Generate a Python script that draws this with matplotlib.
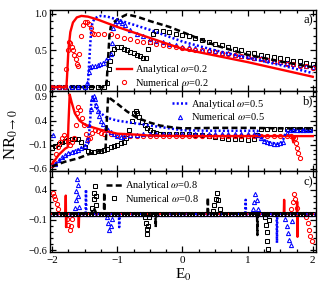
import matplotlib
matplotlib.use('Agg')
import matplotlib.pyplot as plt
from matplotlib.ticker import MultipleLocator
from matplotlib.lines import Line2D

plt.rcParams['font.family'] = 'serif'
plt.rcParams['font.serif'] = ['Liberation Serif', 'DejaVu Serif']
plt.rcParams['mathtext.fontset'] = 'stix'

# ---------------- panel a) ----------------
red_line_a_x = [-2.0, -1.78, -1.77, -1.75, -1.72, -1.68, -1.62, -1.55, -1.45, -1.3, -1.0, -0.5, 0.0, 0.5, 1.0, 1.5, 2.0]
red_line_a_y = [0.0, 0.0, 0.15, 0.5, 0.75, 0.88, 0.95, 0.97, 0.96, 0.92, 0.82, 0.67, 0.52, 0.43, 0.34, 0.24, 0.14]

red_num_a_x = [-2.0, -1.9, -1.8, -1.78, -1.76, -1.74, -1.72, -1.70, -1.68, -1.66, -1.64, -1.62, -1.60,
               -1.58, -1.56, -1.53, -1.50, -1.47, -1.44, -1.41, -1.38, -1.35, -1.3, -1.2, -1.1, -1.0,
               -0.9, -0.8, -0.7, -0.6, -0.5, -0.4, -0.3, -0.2, -0.1, 0.0, 0.1, 0.2, 0.3, 0.4, 0.5,
               0.6, 0.7, 0.8, 0.9, 1.0, 1.1, 1.2, 1.3, 1.4, 1.5, 1.6, 1.7, 1.8, 1.9, 2.0]
red_num_a_y = [0.0, 0.0, 0.0, 0.25, 0.5, 0.62, 0.6, 0.55, 0.5, 0.44, 0.38, 0.32, 0.28,
               0.45, 0.69, 0.85, 0.89, 0.89, 0.86, 0.8, 0.74, 0.72, 0.73, 0.73, 0.72, 0.7,
               0.67, 0.65, 0.63, 0.62, 0.61, 0.59, 0.58, 0.56, 0.55, 0.53, 0.52, 0.51, 0.5, 0.49, 0.48,
               0.46, 0.45, 0.44, 0.42, 0.41, 0.4, 0.38, 0.37, 0.35, 0.34, 0.32, 0.31, 0.29, 0.28, 0.26]

blue_line_a_x = [-2.0, -1.45, -1.44, -1.42, -1.40, -1.38, -1.35, -1.3, -1.25, -1.15, -1.0, -0.5, 0.0, 0.5, 1.0, 1.5, 2.0]
blue_line_a_y = [0.0, 0.0, 0.2, 0.5, 0.78, 0.88, 0.93, 0.96, 0.97, 0.96, 0.92, 0.78, 0.62, 0.5, 0.4, 0.3, 0.19]

blue_num_a_x = [-2.0, -1.9, -1.8, -1.7, -1.6, -1.5,
                -1.46, -1.44, -1.42, -1.38, -1.34, -1.30, -1.26, -1.22, -1.18, -1.14, -1.10, -1.08,
                -1.06, -1.04, -1.0, -0.96, -0.92, -0.88,
                -0.8, -0.7, -0.6, -0.5, -0.4, -0.3, -0.2, -0.1,
                0.0, 0.1, 0.2, 0.3, 0.4, 0.5, 0.6, 0.7, 0.8, 0.9, 1.0, 1.1, 1.2, 1.3, 1.4, 1.5,
                1.6, 1.7, 1.8, 1.9, 2.0]
blue_num_a_y = [0.0, 0.0, 0.0, 0.0, 0.0, 0.0,
                0.05, 0.2, 0.27, 0.29, 0.29, 0.3, 0.31, 0.33, 0.37, 0.41, 0.45, 0.6,
                0.8, 0.88, 0.9, 0.9, 0.87, 0.84,
                0.78, 0.73, 0.69, 0.66, 0.63, 0.61, 0.59, 0.57,
                0.55, 0.54, 0.53, 0.51, 0.5, 0.49, 0.47, 0.46, 0.44, 0.43, 0.42, 0.4, 0.39, 0.37, 0.36, 0.34,
                0.33, 0.31, 0.3, 0.28, 0.27]

black_line_a_x = [-2.0, -1.17, -1.16, -1.14, -1.12, -1.10, -1.06, -1.0, -0.9, -0.85, -0.7, -0.5, -0.2, 0.0, 0.5, 1.0, 1.5, 2.0]
black_line_a_y = [0.0, 0.0, 0.1, 0.4, 0.7, 0.82, 0.88, 0.92, 0.97, 0.99, 0.96, 0.9, 0.82, 0.75, 0.57, 0.44, 0.35, 0.27]

black_num_a_x = [-2.0, -1.9, -1.8, -1.7, -1.6, -1.5, -1.4, -1.3, -1.2,
                 -1.15, -1.13, -1.11, -1.08, -1.05, -1.0, -0.95, -0.9, -0.85, -0.8, -0.75, -0.7,
                 -0.65, -0.6, -0.56, -0.53, -0.5, -0.45, -0.4, -0.3, -0.2, -0.1,
                 0.0, 0.1, 0.2, 0.3, 0.4, 0.5, 0.6, 0.7, 0.8, 0.9, 1.0, 1.1, 1.2, 1.3, 1.4, 1.5,
                 1.6, 1.7, 1.8, 1.9, 2.0]
black_num_a_y = [0.0, 0.0, 0.0, 0.0, 0.0, 0.0, 0.0, 0.0, 0.0,
                 0.05, 0.25, 0.36, 0.47, 0.52, 0.54, 0.54, 0.52, 0.5, 0.48, 0.46, 0.44,
                 0.42, 0.4, 0.4, 0.52, 0.62, 0.72, 0.77, 0.77, 0.75, 0.73,
                 0.71, 0.69, 0.67, 0.64, 0.62, 0.59, 0.57, 0.54, 0.52, 0.5, 0.47, 0.46, 0.44, 0.42, 0.41, 0.39,
                 0.38, 0.36, 0.35, 0.33, 0.32]

# ---------------- panel b) ----------------
red_line_b_x = [-2.0, -1.9, -1.8, -1.76, -1.75, -1.73, -1.70, -1.65, -1.58, -1.5, -1.4, -1.25, -1.0,
                -0.7, -0.5, 0.0, 0.5, 1.0, 1.5, 1.68, 1.70, 1.72, 2.0]
red_line_b_y = [-0.5, -0.31, -0.18, -0.15, 0.3, 0.94, 0.78, 0.55, 0.4, 0.32, 0.27, 0.21, 0.13,
                0.11, 0.09, 0.08, 0.08, 0.08, 0.08, 0.08, -0.05, 0.08, 0.08]

red_num_b_x = [-2.0, -1.97, -1.94, -1.91, -1.88, -1.85, -1.82, -1.79, -1.76, -1.73, -1.70, -1.67,
               -1.64, -1.62, -1.60, -1.57, -1.54, -1.51, -1.48, -1.45, -1.42, -1.38, -1.34, -1.3,
               -1.25, -1.2, -1.1, -1.0, -0.9, -0.8, -0.7, -0.6, -0.5, -0.4, -0.3, -0.2, -0.1, 0.0,
               0.1, 0.2, 0.3, 0.4, 0.5, 0.6, 0.7, 0.8, 0.9, 1.0, 1.1, 1.2, 1.3, 1.4, 1.5, 1.6,
               1.66, 1.7, 1.72, 1.74, 1.76, 1.78, 1.80]
red_num_b_y = [-0.52, -0.45, -0.3, -0.15, -0.05, 0.05, 0.1, 0.05, -0.05, -0.1, -0.05, 0.05,
               0.3, 0.55, 0.68, 0.62, 0.45, 0.3, 0.12, 0.02, 0.05, 0.15, 0.2, 0.18,
               0.15, 0.13, 0.12, 0.11, 0.1, 0.09, 0.09, 0.08, 0.08, 0.08, 0.08, 0.08, 0.08, 0.08,
               0.08, 0.08, 0.08, 0.08, 0.08, 0.08, 0.08, 0.08, 0.08, 0.08, 0.08, 0.08, 0.08, 0.08, 0.08, 0.08,
               0.08, 0.07, 0.05, -0.06, -0.17, -0.28, -0.38]

blue_line_b_x = [-2.0, -1.9, -1.8, -1.72, -1.6, -1.5, -1.45, -1.42, -1.40, -1.38, -1.35, -1.31, -1.25,
                 -1.16, -1.0, -0.8, -0.5, -0.2, 0.0, 0.5, 1.0, 1.15, 1.2, 1.3, 1.45, 1.53, 1.57, 1.6, 2.0]
blue_line_b_y = [-0.55, -0.45, -0.35, -0.27, -0.2, -0.12, -0.08, 0.3, 0.75, 0.9, 0.8, 0.65, 0.55,
                 0.46, 0.4, 0.36, 0.3, 0.24, 0.2, 0.19, 0.19, 0.19, 0.05, -0.04, -0.08, -0.05, 0.1, 0.2, 0.2]

blue_num_b_x = [-1.98, -1.95, -1.9, -1.85, -1.8, -1.75, -1.7, -1.65, -1.6, -1.55, -1.5, -1.46, -1.43,
                -1.40, -1.38, -1.36, -1.34, -1.32, -1.30, -1.28, -1.25, -1.22, -1.18, -1.14, -1.1,
                -1.05, -1.0, -0.95, -0.9, -0.8, -0.7, -0.6, -0.5, -0.4, -0.3, -0.2, -0.1, 0.0,
                0.1, 0.2, 0.3, 0.4, 0.5, 0.6, 0.7, 0.8, 0.9, 1.0, 1.1, 1.15, 1.2, 1.25, 1.3, 1.35,
                1.4, 1.45, 1.5, 1.55, 1.6, 1.65, 1.7, 1.75, 1.8, 1.85, 1.9, 1.95]
blue_num_b_y = [0.1, -0.5, -0.42, -0.36, -0.32, -0.28, -0.25, -0.22, -0.2, -0.17, -0.12, 0.0, 0.3,
                0.65, 0.85, 0.9, 0.85, 0.72, 0.6, 0.5, 0.4, 0.32, 0.26, 0.2, 0.16,
                0.12, 0.09, 0.07, 0.08, 0.1, 0.11, 0.12, 0.12, 0.12, 0.12, 0.12, 0.12, 0.12,
                0.12, 0.12, 0.12, 0.12, 0.12, 0.12, 0.12, 0.12, 0.12, 0.12, 0.12, 0.1, 0.04, -0.02, -0.05, -0.07,
                -0.08, -0.08, -0.07, -0.04, 0.15, 0.2, 0.2, 0.2, 0.2, 0.2, 0.2, 0.2]

black_line_b_x = [-2.0, -1.8, -1.6, -1.45, -1.25, -1.18, -1.16, -1.14, -1.1, -1.0, -0.85, -0.7,
                  -0.5, -0.35, -0.15, 0.0, 0.5, 1.0, 1.5, 2.0]
black_line_b_y = [-0.55, -0.45, -0.38, -0.3, -0.22, -0.18, 0.4, 0.9, 0.85, 0.75, 0.59, 0.46,
                  0.36, 0.3, 0.26, 0.24, 0.25, 0.25, 0.24, 0.24]

black_num_b_x = [-2.0, -1.95, -1.9, -1.85, -1.8, -1.75, -1.7, -1.65, -1.6, -1.55, -1.5, -1.45, -1.4,
                 -1.35, -1.3, -1.25, -1.2, -1.15, -1.1, -1.05, -1.0, -0.95, -0.9, -0.86, -0.82,
                 -0.78, -0.75, -0.72, -0.69, -0.66, -0.62, -0.58, -0.54, -0.5, -0.45, -0.4, -0.35,
                 -0.3, -0.2, -0.1, 0.0, 0.1, 0.2, 0.3, 0.4, 0.5, 0.6, 0.7, 0.8, 0.9, 1.0, 1.1,
                 1.15, 1.2, 1.3, 1.4, 1.5, 1.6, 1.7, 1.8, 1.9, 1.95]
black_num_b_y = [-0.16, -0.12, -0.08, -0.05, -0.02, 0.0, 0.02, 0.03, 0.02, -0.05, -0.15, -0.22, -0.25,
                 -0.24, -0.23, -0.22, -0.2, -0.18, -0.15, -0.12, -0.1, -0.07, -0.04, 0.05, 0.2,
                 0.4, 0.55, 0.59, 0.55, 0.47, 0.38, 0.3, 0.24, 0.2, 0.17, 0.15, 0.13,
                 0.12, 0.12, 0.12, 0.12, 0.12, 0.11, 0.1, 0.08, 0.06, 0.04, 0.02, 0.01, 0.01, 0.0, 0.02,
                 0.1, 0.22, 0.23, 0.23, 0.23, 0.23, 0.23, 0.23, 0.23, 0.23]

# ---------------- panel c) ----------------
c_grid = [-2.0, -1.95, -1.9, -1.85, -1.8, -1.75, -1.7, -1.65, -1.6, -1.55, -1.5, -1.45, -1.4, -1.35,
          -1.3, -1.25, -1.2, -1.15, -1.1, -1.05, -1.0, -0.95, -0.9, -0.85, -0.8, -0.75, -0.7, -0.65,
          -0.6, -0.55, -0.5, -0.45, -0.4, -0.35, -0.3, -0.25, -0.2, -0.15, -0.1, -0.05, 0.0, 0.05,
          0.1, 0.15, 0.2, 0.25, 0.3, 0.35, 0.4, 0.45, 0.5, 0.55, 0.6, 0.65, 0.7, 0.75, 0.8, 0.85,
          0.9, 0.95, 1.0, 1.05, 1.1, 1.15, 1.2, 1.25, 1.3, 1.35, 1.4, 1.45, 1.5, 1.55, 1.6, 1.65,
          1.7, 1.75, 1.8, 1.85, 1.9, 1.95, 2.0]
c_base = [0.0] * len(c_grid)

red_line_c_x = [-2.0, -1.795, -1.79, -1.785, -1.78, -1.595, -1.59, -1.585, 1.555, 1.56, 1.565,
                1.755, 1.76, 1.765, 1.77, 2.0]
red_line_c_y = [0.0, 0.0, 0.3, -0.22, 0.0, 0.0, -0.22, 0.0, 0.0, 0.23, 0.0,
                0.0, 0.2, -0.38, 0.0, 0.0]
red_num_c_x = [-1.99, -1.97, -1.95, -1.93, -1.91, -1.77, -1.75, -1.73, -1.71, -1.69,
               1.67, 1.69, 1.71, 1.73, 1.75, 1.9, 1.92, 1.94, 1.96, 1.98]
red_num_c_y = [0.35, 0.3, 0.24, 0.16, 0.08, -0.08, -0.18, -0.27, -0.2, -0.08,
               0.08, 0.2, 0.32, 0.25, 0.1, -0.06, -0.15, -0.27, -0.37, -0.45]

blue_line_c_x = [-2.0, -1.485, -1.48, -1.475, -0.975, -0.97, -0.965, 0.965, 0.97, 0.975,
                 1.445, 1.45, 1.455, 2.0]
blue_line_c_y = [0.0, 0.0, 0.4, 0.0, 0.0, -0.22, 0.0, 0.0, 0.23, 0.0,
                 0.0, -0.48, 0.0, 0.0]
blue_num_c_x = [-1.65, -1.64, -1.63, -1.62, -1.61, -1.60, -1.59, -1.16, -1.14, -1.12, -1.10, -1.08,
                1.08, 1.10, 1.12, 1.14, 1.16, 1.58, 1.60, 1.62, 1.64, 1.66, 1.68]
blue_num_c_y = [0.1, 0.22, 0.38, 0.57, 0.48, 0.3, 0.12, -0.06, -0.16, -0.27, -0.2, -0.08,
                0.08, 0.2, 0.32, 0.22, 0.08, -0.08, -0.2, -0.32, -0.44, -0.52, -0.12]

black_line_c_x = [-2.0, -1.4, -1.36, -1.32, -1.205, -1.2, -1.195, -0.415, -0.41, -0.405,
                  0.385, 0.39, 0.395, 1.145, 1.15, 1.155, 2.0]
black_line_c_y = [0.0, 0.0, 0.1, 0.0, 0.0, 0.35, 0.0, 0.0, -0.22, 0.0,
                  0.0, 0.27, 0.0, 0.0, -0.35, 0.0, 0.0]
black_num_c_x = [-1.38, -1.36, -1.35, -1.34, -1.33, -1.32, -0.58, -0.56, -0.55, -0.54, -0.53, -0.51,
                 0.47, 0.49, 0.51, 0.53, 0.55, 0.57, 1.26, 1.28, 1.29, 1.30, 1.31, 1.33]
black_num_c_y = [0.1, 0.25, 0.35, 0.45, 0.3, 0.15, -0.05, -0.15, -0.25, -0.33, -0.2, -0.05,
                 0.05, 0.15, 0.25, 0.35, 0.22, 0.08, -0.05, -0.18, -0.3, -0.45, -0.58, -0.1]

omegas = ['0.2', '0.5', '0.8']

RED = '#ff0000'
BLUE = '#0000ff'
BLACK = 'k'
mk = dict(markersize=3.0, markeredgewidth=0.75, markerfacecolor='none', linestyle='none')
red_ls = dict(color=RED, lw=1.7, linestyle='-')
blue_ls = dict(color=BLUE, lw=1.8, linestyle=(0, (0.8, 0.9)))
black_ls = dict(color=BLACK, lw=1.8, linestyle=(0, (2.4, 1.3)))

fig = plt.figure(figsize=(3.32, 2.87), dpi=100)
gs = fig.add_gridspec(3, 1, left=0.151, right=0.952, top=0.965, bottom=0.122, hspace=0)
axes = [fig.add_subplot(gs[i]) for i in range(3)]
ax_a, ax_b, ax_c = axes

# a)
ax_a.plot(black_num_a_x, black_num_a_y, marker='s', color=BLACK, **mk)
ax_a.plot(blue_num_a_x, blue_num_a_y, marker='^', color=BLUE, **mk)
ax_a.plot(red_num_a_x, red_num_a_y, marker='o', color=RED, **mk)
ax_a.plot(black_line_a_x, black_line_a_y, **black_ls)
ax_a.plot(blue_line_a_x, blue_line_a_y, **blue_ls)
ax_a.plot(red_line_a_x, red_line_a_y, **red_ls)

# b)
ax_b.plot(black_num_b_x, black_num_b_y, marker='s', color=BLACK, **mk)
ax_b.plot(red_num_b_x, red_num_b_y, marker='o', color=RED, **mk)
ax_b.plot(blue_num_b_x, blue_num_b_y, marker='^', color=BLUE, **mk)
ax_b.plot(red_line_b_x, red_line_b_y, **red_ls)
ax_b.plot(blue_line_b_x, blue_line_b_y, **blue_ls)
ax_b.plot(black_line_b_x, black_line_b_y, **black_ls)

# c)
ax_c.plot(c_grid, c_base, marker='o', color=RED, **mk)
ax_c.plot(red_num_c_x, red_num_c_y, marker='o', color=RED, **mk)
ax_c.plot(c_grid, c_base, marker='^', color=BLUE, **mk)
ax_c.plot(blue_num_c_x, blue_num_c_y, marker='^', color=BLUE, **mk)
ax_c.plot(red_line_c_x, red_line_c_y, **red_ls)
ax_c.plot(blue_line_c_x, blue_line_c_y, **blue_ls)
ax_c.plot(c_grid, c_base, marker='s', color=BLACK, **mk)
ax_c.plot(black_num_c_x, black_num_c_y, marker='s', color=BLACK, **mk)
ax_c.plot(black_line_c_x, black_line_c_y, **black_ls)


def fmt(v):
    return ('%.1f' % v).replace('-', '\u2212')


ylims = [(-0.05, 1.05), (-0.65, 1.02), (-0.63, 0.7)]
yticks = [[0.0, 0.5, 1.0], [-0.6, -0.1, 0.4, 0.9], [-0.6, -0.1, 0.4]]
for ax, lim, tk in zip(axes, ylims, yticks):
    ax.set_xlim(-2.03, 2.05)
    ax.set_ylim(*lim)
    ax.set_yticks(tk)
    ax.set_yticklabels([fmt(v) for v in tk])
    ax.yaxis.set_minor_locator(MultipleLocator(0.1))
    ax.set_xticks([-2, -1, 0, 1, 2])
    ax.xaxis.set_minor_locator(MultipleLocator(0.25))
    ax.tick_params(which='both', direction='in', top=True, right=True, labelsize=7.5, width=0.9, pad=2)
    ax.tick_params(which='major', length=4.5)
    ax.tick_params(which='minor', length=2.5)
    for s in ax.spines.values():
        s.set_linewidth(1.0)
for ax in axes[:2]:
    ax.tick_params(labelbottom=False)
ax_c.set_xticklabels([fmt(v).replace('.0', '') for v in [-2, -1, 0, 1, 2]])
ax_c.tick_params(axis='x', labelsize=8, pad=3)

# legends
styles = [(red_ls, 'o', RED), (blue_ls, '^', BLUE), (black_ls, 's', BLACK)]
anchors = [(0.25, 0.34), (0.46, 0.91), (0.21, 0.9)]
for ax, (ls, m, c), w, anc in zip(axes, styles, omegas, anchors):
    h = [Line2D([], [], **ls), Line2D([], [], marker=m, color=c, **mk)]
    ax.legend(h, ['Analytical $\\omega$=' + w, 'Numerical $\\omega$=' + w],
              loc='upper left', bbox_to_anchor=anc, frameon=False, fontsize=7.5,
              borderaxespad=0, borderpad=0, handlelength=1.5, handletextpad=0.3,
              labelspacing=0.05)

for ax, lab in zip(axes, ['a)', 'b)', 'c)']):
    ax.text(0.99, 0.87, lab, transform=ax.transAxes, ha='right', va='center', fontsize=9)

fig.text(0.035, 0.53, 'NR$_{0\\rightarrow 0}$', rotation=90, ha='center', va='center', fontsize=12)
ax_c.set_xlabel('E$_0$', fontsize=11, labelpad=1)

fig.savefig('out.png', dpi=100)
